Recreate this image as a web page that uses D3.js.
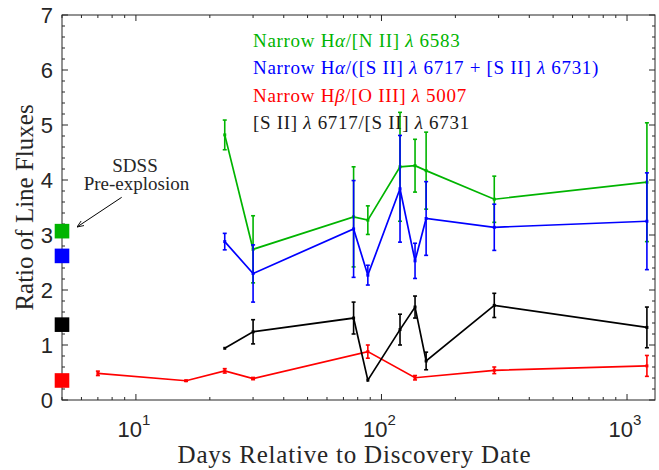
<!DOCTYPE html>
<html>
<head>
<meta charset="utf-8">
<script src="https://cdn.jsdelivr.net/npm/d3@7"></script>
<style>
  body { margin: 0; background: #fff; }
  .tick-label { font-family: "Liberation Sans", Arial, sans-serif; fill: #262626; }
  .serif { font-family: "Liberation Serif", "Times New Roman", serif; }
</style>
</head>
<body>
<svg width="659" height="470"></svg>
<script>
// 資料
const days = [23, 30, 77, 88, 119, 137, 152, 288, 1205];
const greenVal = [4.82, 2.74, 3.33, 3.27, 4.24, 4.26, 4.17, 3.65, 3.96];
const greenErr = [0.27, 0.61, 0.91, 0.26, 0.99, 0.48, 0.70, 0.42, 1.08];
const blueVal = [2.88, 2.30, 3.11, 2.27, 3.84, 2.53, 3.30, 3.14, 3.25];
const blueErr = [0.15, 0.52, 0.88, 0.18, 0.97, 0.32, 0.67, 0.42, 0.88];
const blackVal = [0.94, 1.24, 1.49, 0.36, 1.28, 1.69, 0.71, 1.72, 1.32];
const blackErr = [0, 0.22, 0.29, 0, 0.28, 0.20, 0.16, 0.22, 0.37];
const redDays = [7, 16, 23, 30, 88, 137, 288, 1205];
const redVal = [0.485, 0.35, 0.53, 0.39, 0.88, 0.405, 0.54, 0.62];
const redErr = [0.04, 0.01, 0.04, 0.02, 0.12, 0.04, 0.06, 0.19];

// SDSS pre-explosion
const sdssDay = 5;
const sdssVal = { green: 3.07, blue: 2.62, black: 1.37, red: 0.355 };

const yTicks = [0, 1, 2, 3, 4, 5, 6, 7];
const xTicks = [10, 100, 1000];

const colors = { green: "#00b400", blue: "#0000ff", red: "#ff0000", black: "#000000" };

const svg = d3.select("svg");
const width = +svg.attr("width");
const height = +svg.attr("height");
const margin = { top: 15, right: 4, bottom: 70, left: 62 };
const innerWidth = width - margin.left - margin.right;
const innerHeight = height - margin.top - margin.bottom;

const xScale = d3.scaleLog().domain([5, 1300]).range([0, innerWidth]);
const yScale = d3.scaleLinear().domain([0, 7]).range([innerHeight, 0]);

const g = svg.append("g").attr("transform", `translate(${margin.left},${margin.top})`);

// 座標軸刻度（向內）
const axisColor = "#262626";
const minorY = d3.range(0, 7.001, 0.2);
const majorX = xTicks;
const minorX = [];
[1, 10, 100, 1000].forEach(b => {
  for (let k = 2; k <= 9; k++) {
    const v = b * k;
    if (v >= 5 && v <= 1300) minorX.push(v);
  }
});

const ticks = g.append("g").attr("stroke", axisColor).attr("stroke-width", 1);
minorY.forEach(v => {
  const major = Math.abs(v - Math.round(v)) < 1e-6;
  const len = major ? 6 : 3;
  const y = yScale(v);
  ticks.append("line").attr("x1", 0).attr("x2", len).attr("y1", y).attr("y2", y);
  ticks.append("line").attr("x1", innerWidth).attr("x2", innerWidth - len).attr("y1", y).attr("y2", y);
});
majorX.concat(minorX).forEach(v => {
  const len = majorX.includes(v) ? 6 : 3;
  const x = xScale(v);
  ticks.append("line").attr("x1", x).attr("x2", x).attr("y1", innerHeight).attr("y2", innerHeight - len);
  ticks.append("line").attr("x1", x).attr("x2", x).attr("y1", 0).attr("y2", len);
});

g.append("rect")
  .attr("width", innerWidth).attr("height", innerHeight)
  .attr("fill", "none").attr("stroke", axisColor).attr("stroke-width", 1);

// Y 軸標籤
g.append("g").selectAll("text").data(yTicks).enter().append("text")
  .attr("class", "tick-label")
  .attr("x", -9).attr("y", d => yScale(d))
  .attr("dy", "0.36em")
  .attr("text-anchor", "end")
  .attr("font-size", 22)
  .text(d => d);

// X 軸標籤 10^n
const xl = g.append("g").selectAll("text").data(xTicks).enter().append("text")
  .attr("class", "tick-label")
  .attr("x", d => xScale(d) - 2).attr("y", innerHeight + 36.5)
  .attr("text-anchor", "middle")
  .attr("font-size", 22);
xl.append("tspan").text("10");
xl.append("tspan").attr("font-size", 15).attr("dy", -12).text(d => Math.round(Math.log10(d)));

// 軸標題
g.append("text").attr("class", "serif")
  .attr("x", innerWidth / 2 - 4).attr("y", innerHeight + 63)
  .attr("text-anchor", "middle").attr("font-size", 25).attr("letter-spacing", 0.8)
  .attr("fill", "#262626")
  .text("Days Relative to Discovery Date");

g.append("text").attr("class", "serif")
  .attr("transform", `translate(${33 - margin.left},${207.5 - margin.top}) rotate(-90)`)
  .attr("text-anchor", "middle").attr("font-size", 25).attr("fill", "#262626")
  .text("Ratio of Line Fluxes");

// 畫資料序列
const drawSeries = (xs, vals, errs, color) => {
  const pts = xs.map((d, i) => ({ d, v: vals[i], e: errs[i] }));
  const line = d3.line().x(p => xScale(p.d)).y(p => yScale(p.v));
  g.append("path").datum(pts)
    .attr("d", line).attr("fill", "none")
    .attr("stroke", color).attr("stroke-width", 1.7);
  const eg = g.append("g").attr("stroke", color).attr("stroke-width", 1.6);
  pts.filter(p => p.e > 0).forEach(p => {
    const x = xScale(p.d);
    const y1 = yScale(p.v - p.e), y2 = yScale(p.v + p.e);
    eg.append("line").attr("x1", x).attr("x2", x).attr("y1", y1).attr("y2", y2);
    eg.append("line").attr("x1", x - 2).attr("x2", x + 2).attr("y1", y1).attr("y2", y1);
    eg.append("line").attr("x1", x - 2).attr("x2", x + 2).attr("y1", y2).attr("y2", y2);
  });
  g.append("g").selectAll("rect").data(pts).enter().append("rect")
    .attr("x", p => xScale(p.d) - 1.5).attr("y", p => yScale(p.v) - 1.5)
    .attr("width", 3).attr("height", 3).attr("fill", color);
};

drawSeries(days, greenVal, greenErr, colors.green);
drawSeries(days, blueVal, blueErr, colors.blue);
drawSeries(redDays, redVal, redErr, colors.red);
drawSeries(days, blackVal, blackErr, colors.black);

// SDSS 方塊
Object.keys(sdssVal).forEach(k => {
  g.append("rect")
    .attr("x", xScale(sdssDay) - 7.3).attr("y", yScale(sdssVal[k]) - 7.3)
    .attr("width", 14.6).attr("height", 14.6)
    .attr("fill", colors[k]);
});

// 註解
svg.append("defs").append("marker")
  .attr("id", "arrow").attr("viewBox", "0 0 10 10")
  .attr("refX", 10).attr("refY", 5)
  .attr("markerWidth", 7).attr("markerHeight", 7)
  .attr("orient", "auto")
  .append("path").attr("d", "M0,1 L10,5 L0,9").attr("fill", "none").attr("stroke", "#000").attr("stroke-width", 1.2);

svg.append("line")
  .attr("x1", 121.7).attr("y1", 197.3).attr("x2", 77).attr("y2", 227)
  .attr("stroke", "#000").attr("stroke-width", 1)
  .attr("marker-end", "url(#arrow)");

svg.append("text").attr("class", "serif").attr("x", 135).attr("y", 171.5)
  .attr("text-anchor", "middle").attr("font-size", 19).attr("fill", "#262626").text("SDSS");
svg.append("text").attr("class", "serif").attr("x", 136.5).attr("y", 190)
  .attr("text-anchor", "middle").attr("font-size", 19).attr("fill", "#262626").text("Pre-explosion");

// 圖例
const legend = [
  { color: colors.green, parts: ["Narrow H", ["α"], "/[N II] ", ["λ"], " 6583"] },
  { color: colors.blue, parts: ["Narrow H", ["α"], "/([S II] ", ["λ"], " 6717 + [S II] ", ["λ"], " 6731)"] },
  { color: colors.red, parts: ["Narrow H", ["β"], "/[O III] ", ["λ"], " 5007"] },
  { color: "#1a1a1a", parts: ["[S II] ", ["λ"], " 6717/[S II] ", ["λ"], " 6731"] }
];
legend.forEach((item, i) => {
  const t = svg.append("text").attr("class", "serif")
    .attr("x", 253).attr("y", 47 + i * 27.3)
    .attr("font-size", 19).attr("letter-spacing", 0.7).attr("fill", item.color);
  item.parts.forEach(p => {
    const s = t.append("tspan");
    if (Array.isArray(p)) s.attr("font-style", "italic").text(p[0]);
    else s.text(p);
  });
});
</script>
</body>
</html>
